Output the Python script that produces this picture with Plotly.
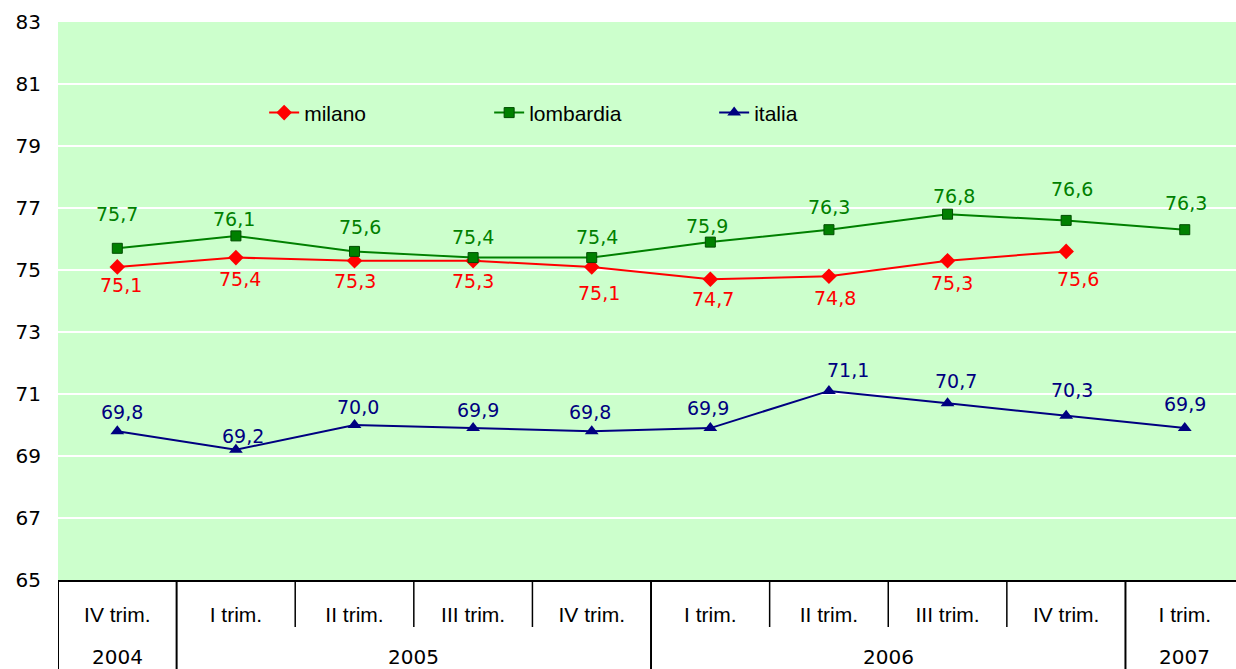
import plotly.graph_objects as go

quarters = ["IV trim.", "I trim.", "II trim.", "III trim.", "IV trim.",
            "I trim.", "II trim.", "III trim.", "IV trim.", "I trim."]
years = ["2004", "2005", "2005", "2005", "2005",
         "2006", "2006", "2006", "2006", "2007"]

milano = [75.1, 75.4, 75.3, 75.3, 75.1, 74.7, 74.8, 75.3, 75.6, None]
lombardia = [75.7, 76.1, 75.6, 75.4, 75.4, 75.9, 76.3, 76.8, 76.6, 76.3]
italia = [69.8, 69.2, 70.0, 69.9, 69.8, 69.9, 71.1, 70.7, 70.3, 69.9]

y_ticks = list(range(65, 84, 2))

# label offsets in pixels (dx, dy; dy positive = downward)
milano_dy = [18, 21, 20, 20, 26, 20, 22, 22, 28]
milano_dx = [4, 4, 0, 0, 7, 3, 6, 4, 12]
lomb_dy = [-34, -17, -24, -21, -21, -16, -23, -18, -31, -27]
lomb_dx = [0, -2, 5, 0, 5, -3, 0, 6, 6, 1]
ital_dy = [-19, -14, -18, -18, -19, -20, -21, -22, -26, -24]
ital_dx = [5, 7, 3, 5, -2, -2, 19, 8, 6, 0]

x = list(range(len(quarters)))

RED = "#FF0000"
GREEN = "#008000"
NAVY = "#000080"
NUMFONT = "DejaVu Sans"
TXTFONT = "Liberation Sans"

fig = go.Figure()
fig.add_trace(go.Scatter(
    x=x, y=milano, name="milano", mode="lines+markers",
    line=dict(color=RED, width=2),
    marker=dict(symbol="diamond", size=12, color=RED),
))
fig.add_trace(go.Scatter(
    x=x, y=lombardia, name="lombardia", mode="lines+markers",
    line=dict(color=GREEN, width=2),
    marker=dict(symbol="square", size=10, color=GREEN,
                line=dict(color="#004d00", width=1)),
))
fig.add_trace(go.Scatter(
    x=x, y=italia, name="italia", mode="lines+markers",
    line=dict(color=NAVY, width=2),
    marker=dict(symbol="triangle-up", size=12, color=NAVY),
))

def fmt(v):
    return f"{v:.1f}".replace(".", ",")

annotations = []
for series, dys, dxs, col in [(milano, milano_dy, milano_dx, RED),
                              (lombardia, lomb_dy, lomb_dx, GREEN),
                              (italia, ital_dy, ital_dx, NAVY)]:
    for i, v in enumerate(series):
        if v is None:
            continue
        annotations.append(dict(
            x=x[i], y=v, xref="x", yref="y", text=fmt(v), showarrow=False,
            xshift=dxs[i], yshift=-dys[i], xanchor="center", yanchor="middle",
            font=dict(family=NUMFONT, size=19, color=col),
        ))

# year group labels and dividers
groups = []
start = 0
for i in range(1, len(years) + 1):
    if i == len(years) or years[i] != years[start]:
        groups.append((years[start], start, i - 1))
        start = i

PLOT_H = 669 - 22 - 89
shapes = []
for name, a, b in groups:
    annotations.append(dict(
        x=(a + b) / 2, y=-77 / PLOT_H, xref="x", yref="paper", text=name,
        showarrow=False, xanchor="center", yanchor="middle",
        font=dict(family=NUMFONT, size=20, color="black"),
    ))
    shapes.append(dict(type="line", xref="x", yref="paper",
                       x0=a - 0.5, x1=a - 0.5, y0=0, y1=-89 / PLOT_H,
                       line=dict(color="black", width=2)))
    for k in range(a + 1, b + 1):
        shapes.append(dict(type="line", xref="x", yref="paper",
                           x0=k - 0.5, x1=k - 0.5, y0=0, y1=-47 / PLOT_H,
                           line=dict(color="black", width=1.5)))

fig.update_layout(
    width=1236, height=669,
    margin=dict(l=58, r=0, t=22, b=89),
    paper_bgcolor="white",
    plot_bgcolor="#CCFFCC",
    showlegend=True,
    legend=dict(orientation="h", x=0.175, y=0.837, xanchor="left",
                yanchor="middle", bgcolor="rgba(0,0,0,0)",
                font=dict(family=TXTFONT, size=21, color="black"),
                entrywidth=180, entrywidthmode="pixels"),
    annotations=annotations,
    shapes=shapes,
    xaxis=dict(range=[-0.5, 9.432], tickvals=x, ticktext=quarters,
               showgrid=False, zeroline=False, showline=True,
               linecolor="black", linewidth=2, ticks="",
               ticklabelstandoff=15,
               tickfont=dict(family=TXTFONT, size=21, color="black")),
    yaxis=dict(range=[65, 83], tickvals=y_ticks,
               ticktext=[str(t) for t in y_ticks],
               showgrid=True, gridcolor="white", gridwidth=2,
               zeroline=False, showline=False, ticks="",
               ticklabelstandoff=16,
               tickfont=dict(family=NUMFONT, size=20, color="black")),
)

fig.write_html("out.html",
               config={"displayModeBar": False},
               post_script="document.body.style.margin='0';document.body.style.overflow='hidden';")
